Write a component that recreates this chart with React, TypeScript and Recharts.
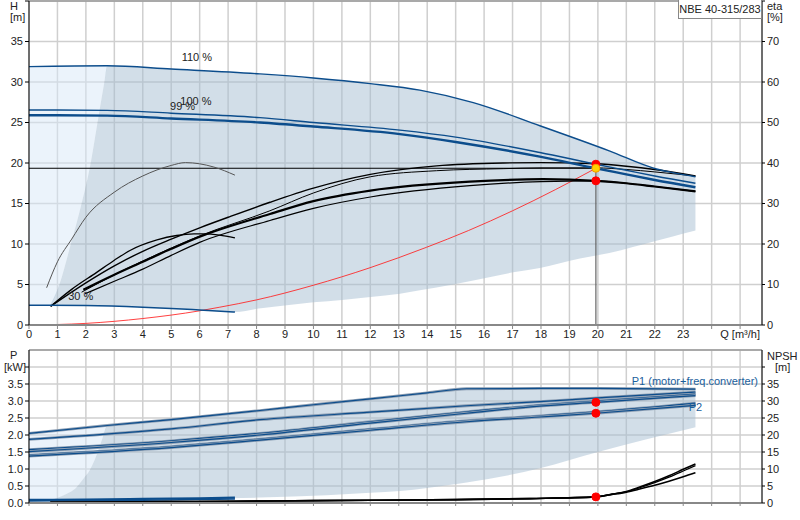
import React from 'react';
import { ComposedChart, Line, Area, XAxis, YAxis, CartesianGrid, ReferenceDot, ReferenceLine } from 'recharts';

// flow axis
const Q_TICKS = [0, 1, 2, 3, 4, 5, 6, 7, 8, 9, 10, 11, 12, 13, 14, 15, 16, 17, 18, 19, 20, 21, 22, 23, 24, 25];
const H_TICKS = [0, 5, 10, 15, 20, 25, 30, 35, 40];
const ETA_TICKS = [0, 10, 20, 30, 40, 50, 60, 70, 80];
const P_TICKS = [0, 0.5, 1, 1.5, 2, 2.5, 3, 3.5, 4];
const NPSH_TICKS = [0, 5, 10, 15, 20, 25, 30, 35, 40];

// head curves [m]
const Q_H110 = [0, 2.75, 5, 8.12, 10, 12, 13.74, 15.62, 17.96, 20.4, 22.06, 22.6, 23.43];
const H110 = [31.9, 32.0, 31.6, 31.0, 30.5, 29.8, 29.0, 27.46, 24.6, 21.5, 19.26, 18.85, 18.3];
const Q_H100 = [0, 2.75, 5, 8.12, 10, 13.04, 15, 17.96, 19.93, 21, 22, 23.43];
const H100 = [26.55, 26.5, 26.15, 25.6, 25.0, 24.06, 23.2, 21.3, 19.85, 19.1, 18.4, 17.5];
const Q_H99 = [0, 2.75, 5, 8.12, 10, 13.04, 15, 17.96, 19.93, 21, 22, 23.43];
const H99 = [25.9, 25.85, 25.5, 25.0, 24.5, 23.57, 22.6, 20.78, 19.35, 18.6, 17.9, 17.0];
const Q_H30 = [0, 2, 4, 5, 6, 7.24];
const H30 = [2.45, 2.4, 2.2, 2.05, 1.85, 1.6];

// operating area (head)
const AREA_Q = [0.74, 1.07, 1.47, 1.85, 2.17, 2.41, 2.65, 2.75, 4, 5, 6, 7.24, 8, 9.06, 10, 11, 12, 13.04, 13.74, 14.91, 15.62, 17.02, 17.96, 19.37, 20.4, 22.06, 22.6, 23.43];
const AREA_HIGH = [2.45, 5, 10, 15, 20, 25, 30, 32, 31.8, 31.6, 31.35, 31.1, 31.0, 30.75, 30.5, 30.2, 29.8, 29.35, 29.0, 28.1, 27.46, 25.9, 24.6, 22.9, 21.5, 19.26, 18.85, 18.3];
const AREA_LOW = [2.43, 2.43, 2.42, 2.41, 2.4, 2.38, 2.36, 2.35, 2.2, 2.05, 1.85, 1.6, 2.0, 2.43, 2.8, 3.1, 3.45, 3.87, 4.3, 5.0, 5.5, 6.5, 7.05, 8.2, 8.9, 10.4, 10.9, 11.66];
const EXT_Q = [0, 0.74, 1.07, 1.47, 1.85, 2.17, 2.41, 2.65, 2.75];
const EXT_LOW = [2.45, 2.45, 5, 10, 15, 20, 25, 30, 32];
const EXT_HIGH = [31.9, 31.92, 31.93, 31.94, 31.95, 31.96, 31.97, 31.99, 32];

// efficiency curves [%]
const Q_ETA30P = [0.62, 1, 1.5, 2, 3, 4, 5, 5.5, 6, 6.5, 7.24];
const ETA30P = [9.2, 15.6, 21.2, 26.6, 32.8, 36.8, 39.4, 40.1, 39.8, 39.0, 37.0];
const Q_ETA30T = [0.76, 1.5, 2.38, 3, 3.55, 4.5, 5.19, 5.8, 6.13, 6.7, 7.24];
const ETA30T = [4.6, 8.8, 13.0, 16.0, 18.4, 21.0, 22.1, 22.5, 22.5, 22.2, 21.5];
const Q_ETA110 = [0.76, 2, 3, 4, 5, 6, 7, 8.47, 10, 12, 14.33, 16.67, 18, 19.93, 21, 22, 23.43];
const ETA110 = [4.6, 10.4, 14.6, 18.2, 21.2, 24.0, 26.6, 30.3, 33.8, 37.2, 39.3, 40.0, 40.1, 39.8, 39.2, 38.4, 36.8];
const Q_ETA100 = [1.85, 3, 4, 5, 6, 8.47, 10, 12, 14.33, 16.67, 18, 19.93, 21, 22, 23.43];
const ETA100 = [8.1, 12.4, 15.8, 19.0, 22.0, 28.2, 32.6, 36.6, 38.1, 38.6, 38.8, 38.8, 38.4, 37.8, 36.8];
const Q_ETA99T = [1.91, 3, 4, 5, 6, 8.47, 10, 12, 15.5, 18.08, 19.93, 21, 22, 23.43];
const ETA99T = [8.7, 12.4, 15.6, 18.8, 21.8, 27.4, 30.6, 33.2, 35.4, 36.0, 35.6, 35.0, 34.2, 33.0];
const Q_ETA100T = [1.97, 3, 4, 5, 6, 8.47, 10, 12, 15.5, 18, 19.93, 21, 22, 23.43];
const ETA100T = [7.7, 10.8, 13.8, 17.2, 20.4, 25.8, 28.8, 31.6, 34.4, 35.4, 35.6, 35.0, 34.2, 33.0];

// system curve and duty point
const Q_SYS = [0, 2, 4, 6, 6.71, 8, 9.99, 11.99, 13.98, 15.45, 17, 18.5, 19.93];
const H_SYS = [0, 0.2, 0.8, 1.75, 2.2, 3.1, 4.9, 7.07, 9.6, 11.66, 14.1, 16.7, 19.35];
const DUTY_Q = 19.93;
const DUTY_H = 19.35;
const DUTY_H100 = 19.85;
const DUTY_ETA = 35.6;

// power curves [kW]
const Q_P = [0, 5, 8.12, 12, 15.38, 17.96, 19.93, 23.43];
const P1_100 = [1.57, 1.83, 2.05, 2.39, 2.68, 2.88, 3.0, 3.2];
const P1_99 = [1.51, 1.78, 2.0, 2.35, 2.64, 2.85, 2.96, 3.16];
const P2_100 = [1.41, 1.66, 1.88, 2.17, 2.42, 2.56, 2.68, 2.94];
const P2_99 = [1.38, 1.63, 1.85, 2.14, 2.39, 2.53, 2.64, 2.87];
const Q_P2_110 = [0, 5, 8.12, 12, 15.38, 17.96, 20, 23.43];
const P2_110 = [1.87, 2.18, 2.45, 2.67, 2.86, 2.98, 3.09, 3.26];
const Q_P1_110 = [0, 2.75, 5, 8.12, 10, 12, 14, 15.38, 18, 20, 23.43];
const P1_110 = [2.05, 2.28, 2.45, 2.72, 2.89, 3.06, 3.24, 3.36, 3.37, 3.37, 3.35];
const Q_P30 = [0, 2, 4, 6, 7.24];
const P1_30 = [0.09, 0.1, 0.12, 0.14, 0.16];
const P2_30 = [0.06, 0.07, 0.08, 0.1, 0.12];
const DUTY_P1 = 2.96;
const DUTY_P2 = 2.64;

// operating area (power)
const PAREA_Q = [0.74, 1.2, 1.68, 1.9, 2.14, 2.3, 2.44, 2.6, 2.75, 5, 8.12, 10.46, 12, 13.04, 14, 15.15, 15.38, 17.96, 20, 23.43];
const PAREA_HIGH = [0.08, 0.22, 0.47, 0.7, 0.97, 1.25, 1.56, 1.95, 2.28, 2.45, 2.72, 2.93, 3.06, 3.15, 3.24, 3.34, 3.36, 3.37, 3.37, 3.36];
const PAREA_LOW = [0.08, 0.08, 0.09, 0.09, 0.09, 0.1, 0.1, 0.1, 0.1, 0.12, 0.16, 0.23, 0.3, 0.35, 0.44, 0.57, 0.6, 1.02, 1.5, 2.23];
const PEXT_Q = [0, 0.74, 1.2, 1.68, 1.9, 2.14, 2.3, 2.44, 2.6, 2.75];
const PEXT_LOW = [0.08, 0.08, 0.22, 0.47, 0.7, 0.97, 1.25, 1.56, 1.95, 2.28];
const PEXT_HIGH = [2.05, 2.1, 2.14, 2.18, 2.19, 2.21, 2.23, 2.24, 2.26, 2.28];

// NPSH [m]
const Q_NPSH = [0.75, 3, 5, 7.24, 10, 12, 15, 17.6, 19.93, 20.5, 21, 21.47, 22, 22.5, 23, 23.43];
const NPSH_A = [0.2, 0.3, 0.4, 0.5, 0.7, 0.8, 1.0, 1.3, 1.8, 2.6, 3.4, 4.7, 6.3, 8.0, 9.9, 11.5];
const NPSH_B = [0.2, 0.3, 0.4, 0.5, 0.7, 0.8, 1.0, 1.3, 1.8, 2.6, 3.3, 4.5, 6.0, 7.6, 9.4, 11.0];
const NPSH_C = [0.2, 0.3, 0.4, 0.5, 0.7, 0.8, 1.0, 1.3, 1.8, 2.5, 3.2, 4.1, 5.2, 6.4, 7.7, 8.9];
const DUTY_NPSH = 1.8;

const BLUE = '#0c4d8c';
const FONT = '"Liberation Sans", Arial, sans-serif';
const Q_MAX = 25.77;

const pts = (q: number[], v: number[]) => q.map((x, i) => ({ q: x, v: v[i] }));
const band = (q: number[], lo: number[], hi: number[]) => q.map((x, i) => ({ q: x, range: [lo[i], hi[i]] }));

const curve = (key: string, data: any[], axis: string, stroke: string, width: number, type: any = 'monotone', opacity = 1) => (
  <Line key={key} data={data} dataKey="v" yAxisId={axis} type={type} stroke={stroke} strokeWidth={width}
    strokeOpacity={opacity} dot={false} activeDot={false} isAnimationActive={false} />
);

const powerCurve = (key: string, data: any[]) => [
  curve(key + '-halo', data, 'p', '#8b9db2', 2.8),
  curve(key, data, 'p', BLUE, 1.2),
];

const textShape = (text: string, color: string) => (props: any) => (
  <text x={props.cx} y={props.cy} textAnchor="middle" dominantBaseline="central" fontSize={11} fill={color} fontFamily={FONT}>{text}</text>
);

const qTick = (v: number) => (v === 25 ? 'Q [m³/h]' : v === 24 ? '' : String(v));
const tickStyle = { fontSize: 11, fill: '#222' };

const AxisText = ({ x, y, children }: any) => (
  <div style={{ position: 'absolute', left: x, top: y, fontSize: 11, color: '#222', lineHeight: '12px', whiteSpace: 'nowrap' }}>
    {children}
  </div>
);

const App = () => {
  return (
    <div style={{ position: 'absolute', left: 0, top: 0, width: 800, height: 520, background: '#fff', fontFamily: FONT }}>
      <div style={{ position: 'absolute', left: 0, top: 0 }}>
        <ComposedChart width={800} height={345} margin={{ top: 1, right: 0, bottom: 0, left: 0 }}>
          <CartesianGrid yAxisId="h" stroke="#cfcfcf" strokeWidth={1.5} />
          <XAxis type="number" dataKey="q" domain={[0, Q_MAX]} ticks={Q_TICKS} interval={0} tickFormatter={qTick}
            allowDataOverflow height={20} tick={tickStyle} tickSize={4} tickMargin={1}
            axisLine={{ stroke: '#888', strokeWidth: 2 }} tickLine={{ stroke: '#888' }} />
          <YAxis yAxisId="h" domain={[0, 40]} ticks={H_TICKS} interval={0} width={29} allowDataOverflow
            tickFormatter={(v: number) => (v === 40 ? '' : String(v))} tick={tickStyle} tickSize={4} tickMargin={2}
            axisLine={{ stroke: '#000' }} tickLine={{ stroke: '#000' }} />
          <YAxis yAxisId="eta" orientation="right" domain={[0, 80]} ticks={ETA_TICKS} interval={0} width={38} allowDataOverflow
            tickFormatter={(v: number) => (v === 80 ? '' : String(v))} tick={{ ...tickStyle, textAnchor: 'start' }} tickSize={3} tickMargin={2}
            axisLine={{ stroke: '#000' }} tickLine={{ stroke: '#000' }} />

          <Area data={band(EXT_Q, EXT_LOW, EXT_HIGH)} dataKey="range" yAxisId="h" type="monotone" stroke="none"
            fill="#d7e8f8" fillOpacity={0.5} activeDot={false} isAnimationActive={false} />
          <Area data={band(AREA_Q, AREA_LOW, AREA_HIGH)} dataKey="range" yAxisId="h" type="monotone" stroke="none"
            fill="#a6bdd2" fillOpacity={0.5} activeDot={false} isAnimationActive={false} />
          <ReferenceLine yAxisId="h" y={40} stroke="#999" strokeWidth={1.5} />

          {curve('sys', pts(Q_SYS, H_SYS), 'h', '#ff2020', 1, 'monotone', 0.85)}
          {curve('duty-h', [{ q: 0, v: DUTY_H }, { q: DUTY_Q, v: DUTY_H }], 'h', '#000', 1, 'linear')}
          {curve('duty-v', [{ q: DUTY_Q, v: 0 }, { q: DUTY_Q, v: DUTY_H }], 'h', '#666', 1.2, 'linear')}

          {curve('eta30p', pts(Q_ETA30P, ETA30P), 'eta', '#555', 1)}
          {curve('eta30t', pts(Q_ETA30T, ETA30T), 'eta', '#000', 1.3)}
          {curve('eta110', pts(Q_ETA110, ETA110), 'eta', '#000', 1.4)}
          {curve('eta100', pts(Q_ETA100, ETA100), 'eta', '#000', 1)}
          {curve('eta99t', pts(Q_ETA99T, ETA99T), 'eta', '#000', 2.2)}
          {curve('eta100t', pts(Q_ETA100T, ETA100T), 'eta', '#000', 1.2)}

          {curve('h110', pts(Q_H110, H110), 'h', BLUE, 1.4)}
          {curve('h100', pts(Q_H100, H100), 'h', BLUE, 1.4)}
          {curve('h99', pts(Q_H99, H99), 'h', BLUE, 2.4)}
          {curve('h30', pts(Q_H30, H30), 'h', BLUE, 1.5)}

          <ReferenceDot yAxisId="h" x={5.9} y={33.1} r={0} ifOverflow="visible" shape={textShape('110 %', '#222')} />
          <ReferenceDot yAxisId="h" x={5.87} y={27.7} r={0} ifOverflow="visible" shape={textShape('100 %', '#222')} />
          <ReferenceDot yAxisId="h" x={5.4} y={27.0} r={0} ifOverflow="visible" shape={textShape('99 %', '#222')} />
          <ReferenceDot yAxisId="h" x={1.82} y={3.54} r={0} ifOverflow="visible" shape={textShape('30 %', '#222')} />

          <ReferenceDot yAxisId="h" x={DUTY_Q} y={DUTY_H100} r={4} fill="#ff0000" stroke="#ff0000" />
          <ReferenceDot yAxisId="h" x={DUTY_Q} y={DUTY_H} r={4} fill="#ffd200" stroke="#f59a00" />
          <ReferenceDot yAxisId="eta" x={DUTY_Q} y={DUTY_ETA} r={4} fill="#ff0000" stroke="#ff0000" />
        </ComposedChart>
      </div>

      <div style={{ position: 'absolute', left: 0, top: 340 }}>
        <ComposedChart width={800} height={180} margin={{ top: 10, right: 0, bottom: 0, left: 0 }}>
          <CartesianGrid yAxisId="p" stroke="#cfcfcf" strokeWidth={1.5} />
          <XAxis type="number" dataKey="q" domain={[0, Q_MAX]} ticks={Q_TICKS} interval={0} tickFormatter={() => ''}
            allowDataOverflow height={17} tickSize={3}
            axisLine={{ stroke: '#888', strokeWidth: 2 }} tickLine={{ stroke: '#888' }} />
          <YAxis yAxisId="p" domain={[0, 4.5]} ticks={P_TICKS} interval={0} width={29} allowDataOverflow
            tickFormatter={(v: number) => (v === 4 ? '' : v.toFixed(1))} tick={tickStyle} tickSize={4} tickMargin={2}
            axisLine={{ stroke: '#000' }} tickLine={{ stroke: '#000' }} />
          <YAxis yAxisId="npsh" orientation="right" domain={[0, 45]} ticks={NPSH_TICKS} interval={0} width={38} allowDataOverflow
            tickFormatter={(v: number) => (v === 40 ? '' : String(v))} tick={{ ...tickStyle, textAnchor: 'start' }} tickSize={3} tickMargin={2}
            axisLine={{ stroke: '#000' }} tickLine={{ stroke: '#000' }} />

          <Area data={band(PEXT_Q, PEXT_LOW, PEXT_HIGH)} dataKey="range" yAxisId="p" type="monotone" stroke="none"
            fill="#d7e8f8" fillOpacity={0.5} activeDot={false} isAnimationActive={false} />
          <Area data={band(PAREA_Q, PAREA_LOW, PAREA_HIGH)} dataKey="range" yAxisId="p" type="monotone" stroke="none"
            fill="#a6bdd2" fillOpacity={0.5} activeDot={false} isAnimationActive={false} />
          <ReferenceLine yAxisId="p" y={4.5} stroke="#999" strokeWidth={1.5} />

          {powerCurve('p1-110', pts(Q_P1_110, P1_110))}
          {powerCurve('p2-110', pts(Q_P2_110, P2_110))}
          {powerCurve('p1-100', pts(Q_P, P1_100))}
          {powerCurve('p1-99', pts(Q_P, P1_99))}
          {powerCurve('p2-100', pts(Q_P, P2_100))}
          {powerCurve('p2-99', pts(Q_P, P2_99))}
          {curve('p1-30', pts(Q_P30, P1_30), 'p', BLUE, 2.2)}
          {curve('p2-30', pts(Q_P30, P2_30), 'p', BLUE, 1.5)}

          {curve('npsh-a', pts(Q_NPSH, NPSH_A), 'npsh', '#000', 1.6)}
          {curve('npsh-b', pts(Q_NPSH, NPSH_B), 'npsh', '#000', 1.2)}
          {curve('npsh-c', pts(Q_NPSH, NPSH_C), 'npsh', '#000', 1.6)}

          <ReferenceDot yAxisId="p" x={23.41} y={3.58} r={0} ifOverflow="visible" shape={textShape('P1 (motor+freq.converter)', '#1a5e9c')} />
          <ReferenceDot yAxisId="p" x={23.43} y={2.81} r={0} ifOverflow="visible" shape={textShape('P2', '#1a5e9c')} />

          <ReferenceDot yAxisId="p" x={DUTY_Q} y={DUTY_P1} r={4} fill="#ff0000" stroke="#ff0000" />
          <ReferenceDot yAxisId="p" x={DUTY_Q} y={DUTY_P2} r={4} fill="#ff0000" stroke="#ff0000" />
          <ReferenceDot yAxisId="npsh" x={DUTY_Q} y={DUTY_NPSH} r={4} fill="#ff0000" stroke="#ff0000" />
        </ComposedChart>
      </div>

      <AxisText x={10} y={0}>H</AxisText>
      <AxisText x={10} y={11}>[m]</AxisText>
      <AxisText x={767} y={0}>eta</AxisText>
      <AxisText x={767} y={11}>[%]</AxisText>
      <AxisText x={10} y={349}>P</AxisText>
      <AxisText x={4} y={361}>[kW]</AxisText>
      <AxisText x={767} y={350}>NPSH</AxisText>
      <AxisText x={775} y={361}>[m]</AxisText>
      <div style={{ position: 'absolute', left: 678, top: 0, width: 84, height: 19, boxSizing: 'border-box', border: '1px solid #888', borderTop: 'none', background: '#fff', fontSize: 11, color: '#222', lineHeight: '18px', textAlign: 'center', whiteSpace: 'nowrap' }}>
        NBE 40-315/283
      </div>
    </div>
  );
};

export default App;
